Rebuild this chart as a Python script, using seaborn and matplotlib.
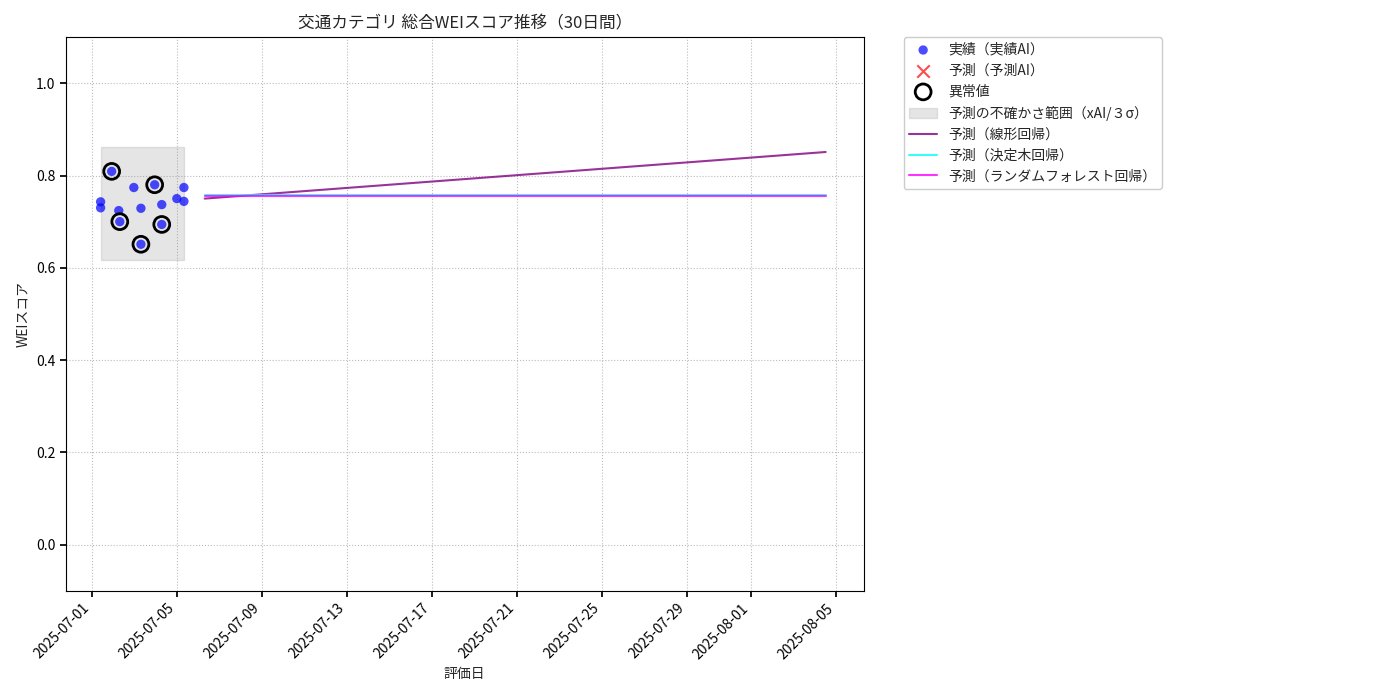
import pandas as pd
import matplotlib.pyplot as plt
import matplotlib.dates as mdates
import seaborn as sns

# 実績データ
actual_dates = pd.to_datetime([
    '2025-07-01 10:00', '2025-07-01 10:00', '2025-07-01 22:30', '2025-07-02 06:30',
    '2025-07-02 07:40', '2025-07-02 23:30', '2025-07-03 07:30', '2025-07-03 07:30',
    '2025-07-03 23:00', '2025-07-04 07:00', '2025-07-04 07:00', '2025-07-05 00:00',
    '2025-07-05 08:00', '2025-07-05 08:00'])
actual_scores = [0.743, 0.730, 0.809, 0.724, 0.700, 0.774, 0.729, 0.651,
                 0.780, 0.737, 0.694, 0.750, 0.774, 0.744]
anomaly_idx = [2, 4, 7, 8, 10]

band_start = pd.Timestamp('2025-07-01 10:00')
band_end = pd.Timestamp('2025-07-05 08:00')
band_low, band_high = 0.617, 0.861

pred_start = pd.Timestamp('2025-07-06 07:30')
pred_end = pd.Timestamp('2025-08-04 12:00')
linear_vals = [0.750, 0.851]
tree_vals = [0.757, 0.757]
forest_vals = [0.755, 0.755]

sns.set_theme(style="whitegrid")
plt.rcParams['font.family'] = ['Noto Sans CJK JP', 'DejaVu Sans']

fig, ax = plt.subplots(figsize=(14, 7), dpi=100)
ax.set_facecolor('white')
for s in ax.spines.values():
    s.set_edgecolor('black')
    s.set_linewidth(0.8)
ax.grid(True, linestyle=':', color='#bbbbbb', linewidth=0.8)

df = pd.DataFrame({'date': actual_dates, 'score': actual_scores})
sns.scatterplot(data=df, x='date', y='score', ax=ax, color='blue', alpha=0.7,
                s=45, edgecolor='none', label='実績（実績AI）', zorder=3)
ax.scatter([], [], marker='x', color='red', alpha=0.7, s=80, label='予測（予測AI）')
an = df.iloc[anomaly_idx]
ax.scatter(an['date'], an['score'], s=130, facecolors='none', edgecolors='black',
           linewidths=2, label='異常値', zorder=4)
ax.fill_between([band_start, band_end], band_low, band_high, color='gray', alpha=0.2,
                label='予測の不確かさ範囲（xAI/３σ）')
px = [pred_start, pred_end]
sns.lineplot(x=px, y=linear_vals, ax=ax, color='purple', alpha=0.8, label='予測（線形回帰）')
sns.lineplot(x=px, y=tree_vals, ax=ax, color='cyan', alpha=0.8, label='予測（決定木回帰）')
sns.lineplot(x=px, y=forest_vals, ax=ax, color='magenta', alpha=0.8, label='予測（ランダムフォレスト回帰）')

ax.set_xlim(pd.Timestamp('2025-06-29 18:45'), pd.Timestamp('2025-08-06 07:00'))
ax.set_ylim(-0.1, 1.1)
ax.xaxis.set_major_locator(mdates.DayLocator(bymonthday=[1, 5, 9, 13, 17, 21, 25, 29]))
ax.xaxis.set_major_formatter(mdates.DateFormatter('%Y-%m-%d'))
plt.setp(ax.get_xticklabels(), rotation=45, ha='right')
ax.tick_params(axis='both', labelsize=10, colors='black', length=4, bottom=True, left=True)
ax.set_title('交通カテゴリ 総合WEIスコア推移（30日間）', fontsize=12)
ax.set_xlabel('評価日', fontsize=10)
ax.set_ylabel('WEIスコア', fontsize=10)
ax.legend(bbox_to_anchor=(1.05, 1), loc='upper left', borderaxespad=0., fontsize=10,
          facecolor='white', edgecolor='#cccccc', framealpha=1)
fig.subplots_adjust(left=0.047, right=0.617, top=0.947, bottom=0.156)
fig.savefig('out.png')
